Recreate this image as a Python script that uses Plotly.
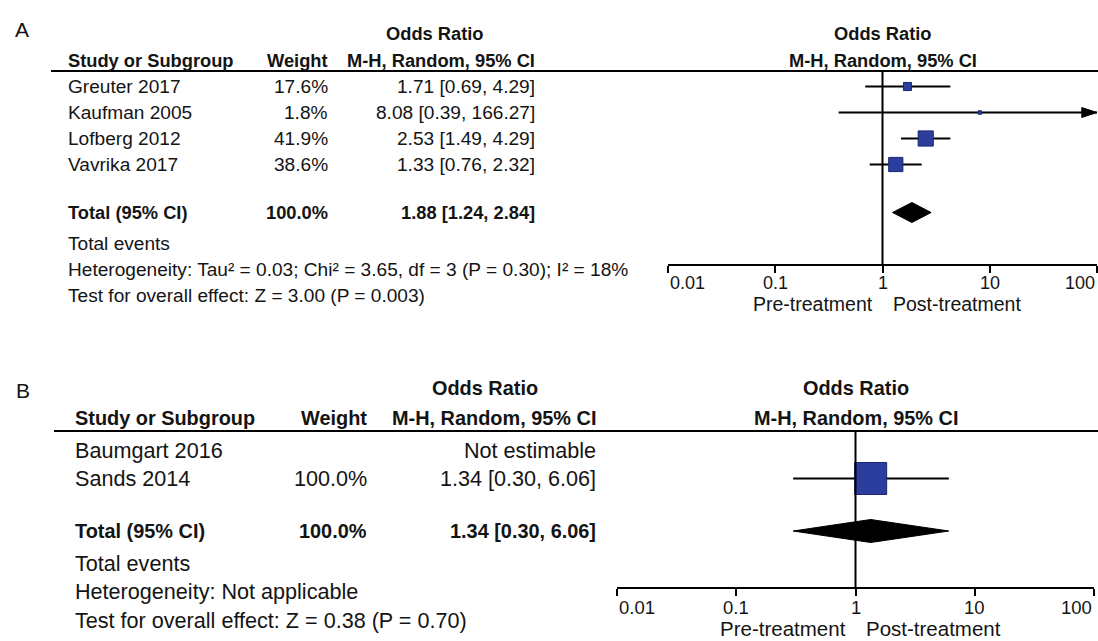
import math
import plotly.graph_objects as go

W, H = 1098, 641
FONT = "Arial, 'Liberation Sans', sans-serif"
TXT = "#141414"

# ---------------- data ----------------
a_studies = ["Greuter 2017", "Kaufman 2005", "Lofberg 2012", "Vavrika 2017"]
a_weight = [17.6, 1.8, 41.9, 38.6]
a_or = [1.71, 8.08, 2.53, 1.33]
a_lo = [0.69, 0.39, 1.49, 0.76]
a_hi = [4.29, 166.27, 4.29, 2.32]
a_total = [1.88, 1.24, 2.84]
a_total_weight = 100.0
a_footer = ["Total events",
            "Heterogeneity: Tau² = 0.03; Chi² = 3.65, df = 3 (P = 0.30); I² = 18%",
            "Test for overall effect: Z = 3.00 (P = 0.003)"]

b_studies = ["Baumgart 2016", "Sands 2014"]
b_weight = [None, 100.0]
b_or = [None, 1.34]
b_lo = [None, 0.30]
b_hi = [None, 6.06]
b_total = [1.34, 0.30, 6.06]
b_total_weight = 100.0
b_footer = ["Total events",
            "Heterogeneity: Not applicable",
            "Test for overall effect: Z = 0.38 (P = 0.70)"]

tick_vals = [0.01, 0.1, 1, 10, 100]
tick_labels = ["0.01", "0.1", "1", "10", "100"]
favours = ["Pre-treatment", "Post-treatment"]

# ---------------- layout config (pixels) ----------------
panels = [
    dict(letter="A", letter_xy=(22, 29), xa="x", xa_over="x3",
         studies=a_studies, weight=a_weight, est=a_or, lo=a_lo, hi=a_hi,
         total=a_total, total_w=a_total_weight, footer=a_footer,
         dom=(668, 1097), axis_y=265, tick_y=283, fav_y=304, fav_size=19.5,
         tick_size=18, head1_y=33, head2_y=60, line_y=71, line_x0=51,
         col_study=66, col_w=330, col_ci=537, odds_c=435,
         row0=86.5, drow=26, total_y=212.5, foot0=243, dfoot=26,
         size=19.1, bsize=18.3, dia_h=10),
    dict(letter="B", letter_xy=(23, 390), xa="x2", xa_over="x4",
         studies=b_studies, weight=b_weight, est=b_or, lo=b_lo, hi=b_hi,
         total=b_total, total_w=b_total_weight, footer=b_footer,
         dom=(617, 1094), axis_y=588, tick_y=607, fav_y=628, fav_size=20.5,
         tick_size=18.5, head1_y=388, head2_y=418, line_y=431, line_x0=54,
         col_study=73, col_w=369, col_ci=598, odds_c=485,
         row0=450, drow=28.5, total_y=531, foot0=563, dfoot=28.5,
         size=21.6, bsize=19.9, dia_h=11.5),
]

SQ_FILL = "#2b3e9e"
SQ_LINE = "#1a2874"

fig = go.Figure()
ann = []
shapes = []


def px(x):
    return x / W


def txt(x, y, s, size, anchor="left", bold=False, xref="paper", yref="y"):
    if bold:
        s = "<b>" + s + "</b>"
    ann.append(dict(x=x, y=y, xref=xref, yref=yref, text=s, showarrow=False,
                    xanchor=anchor, yanchor="middle",
                    font=dict(family=FONT, size=size, color=TXT)))


def fmt_ci(e, l, h):
    return f"{e:.2f} [{l:.2f}, {h:.2f}]"


layout_axes = {}
for k, p in enumerate(panels):
    xa = p["xa"]
    xaxis_name = "xaxis" if xa == "x" else "xaxis" + xa[1:]
    over_name = "xaxis" + p["xa_over"][1:]
    pos = 1 - p["axis_y"] / H
    dom = [px(p["dom"][0]), px(p["dom"][1])]
    common = dict(type="log", range=[-2, 2], domain=dom, anchor="free", position=pos,
                  tickvals=tick_vals, showticklabels=False, showgrid=False,
                  zeroline=False, tickwidth=2, ticklen=7, tickcolor="black",
                  fixedrange=True)
    layout_axes[xaxis_name] = dict(common, ticks="outside", showline=True,
                                   linecolor="black", linewidth=2)
    layout_axes[over_name] = dict(common, ticks="inside", showline=False,
                                  overlaying=xa)

    # letter
    lx, ly = p["letter_xy"]
    txt(px(lx), ly, p["letter"], 21, anchor="center")

    # headers
    txt(px(p["odds_c"]), p["head1_y"], "Odds Ratio", p["bsize"], "center", True)
    txt(px(p["col_study"]), p["head2_y"], "Study or Subgroup", p["bsize"], "left", True)
    txt(px(p["col_w"]), p["head2_y"], "Weight", p["bsize"], "right", True)
    txt(px(p["col_ci"]), p["head2_y"], "M-H, Random, 95% CI", p["bsize"], "right", True)
    plot_c = (p["dom"][0] + p["dom"][1]) / 2
    txt(px(plot_c), p["head1_y"], "Odds Ratio", p["bsize"], "center", True)
    txt(px(plot_c), p["head2_y"], "M-H, Random, 95% CI", p["bsize"], "center", True)

    shapes.append(dict(type="line", xref="paper", yref="y", x0=px(p["line_x0"]), x1=1.0,
                       y0=p["line_y"], y1=p["line_y"], line=dict(color="black", width=2)))

    # study rows
    for i, name in enumerate(p["studies"]):
        y = p["row0"] + i * p["drow"]
        txt(px(p["col_study"]), y, name, p["size"])
        w = p["weight"][i]
        if w is None:
            txt(px(p["col_ci"]), y, "Not estimable", p["size"], "right")
            continue
        txt(px(p["col_w"]), y, f"{w:.1f}%", p["size"], "right")
        e, l, h = p["est"][i], p["lo"][i], p["hi"][i]
        txt(px(p["col_ci"]), y, fmt_ci(e, l, h), p["size"], "right")
        # CI line
        fig.add_trace(go.Scatter(x=[l, h], y=[y, y], mode="lines", xaxis=xa, yaxis="y",
                                 line=dict(color="black", width=2), hoverinfo="skip",
                                 showlegend=False))
        if h > tick_vals[-1]:
            # CI runs off the scale: filled arrow head at the axis end
            fig.add_trace(go.Scatter(x=[tick_vals[-1]], y=[y], mode="markers", xaxis=xa,
                                     yaxis="y", cliponaxis=False,
                                     marker=dict(symbol="arrow", angle=90, size=16,
                                                 color="black",
                                                 line=dict(color="black", width=1)),
                                     hoverinfo="skip", showlegend=False))
        fig.add_trace(go.Scatter(x=[e], y=[y], mode="markers", xaxis=xa, yaxis="y",
                                 marker=dict(symbol="square", size=3 + 0.29 * w,
                                             color=SQ_FILL,
                                             line=dict(color=SQ_LINE, width=1)),
                                 name=name, showlegend=False))

    # total row
    ty = p["total_y"]
    txt(px(p["col_study"]), ty, "Total (95% CI)", p["bsize"], "left", True)
    txt(px(p["col_w"]), ty, f"{p['total_w']:.1f}%", p["bsize"], "right", True)
    te, tl, th = p["total"]
    txt(px(p["col_ci"]), ty, fmt_ci(te, tl, th), p["bsize"], "right", True)
    dh = p["dia_h"]
    fig.add_trace(go.Scatter(x=[tl, te, th, te, tl], y=[ty, ty - dh, ty, ty + dh, ty],
                             mode="lines", fill="toself", fillcolor="black",
                             line=dict(color="black", width=1), xaxis=xa, yaxis="y",
                             hoverinfo="skip", showlegend=False))

    # footer
    for j, s in enumerate(p["footer"]):
        txt(px(p["col_study"]), p["foot0"] + j * p["dfoot"], s, p["size"])

    # line of no effect
    fig.add_trace(go.Scatter(x=[1, 1], y=[p["line_y"], p["axis_y"]], mode="lines",
                             xaxis=xa, yaxis="y", line=dict(color="black", width=2),
                             hoverinfo="skip", showlegend=False))

    # tick labels
    for t, lab in zip(tick_vals, tick_labels):
        anchor = "left" if t == tick_vals[0] else ("right" if t == tick_vals[-1] else "center")
        txt(math.log10(t), p["tick_y"], lab, p["tick_size"], anchor, xref=xa)

    # favours labels
    ann.append(dict(x=0, y=p["fav_y"], xref=xa, yref="y", text=favours[0], showarrow=False,
                    xanchor="right", yanchor="middle", xshift=-8,
                    font=dict(family=FONT, size=p["fav_size"], color=TXT)))
    ann.append(dict(x=0, y=p["fav_y"], xref=xa, yref="y", text=favours[1], showarrow=False,
                    xanchor="left", yanchor="middle", xshift=8,
                    font=dict(family=FONT, size=p["fav_size"], color=TXT)))

fig.update_layout(
    width=W, height=H, margin=dict(l=0, r=0, t=0, b=0),
    paper_bgcolor="white", plot_bgcolor="rgba(0,0,0,0)",
    showlegend=False, annotations=ann, shapes=shapes,
    yaxis=dict(domain=[0, 1], range=[H, 0], visible=False, fixedrange=True),
    **layout_axes,
)

fig.write_html("out.html", config={"displayModeBar": False},
               post_script="document.body.style.margin='0';document.body.style.overflow='hidden';")
